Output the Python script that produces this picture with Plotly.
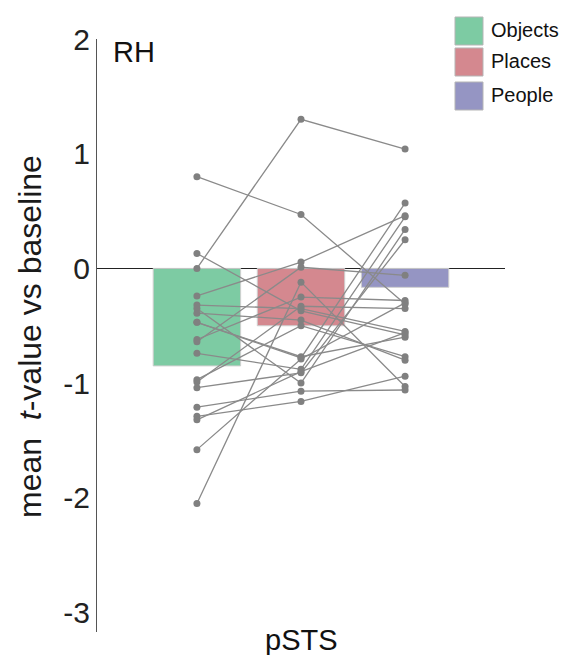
import plotly.graph_objects as go

# ---- data ----
conditions = ["Objects", "Places", "People"]
bar_means = [-0.85, -0.50, -0.165]
bar_colors = ["#7dcba3", "#d4888f", "#9595c3"]

# per-subject values (same index = same subject)
objects = [0.80, 0.00, 0.13, -0.24, -0.32, -0.35, -0.39, -0.47, -0.47, -0.62,
           -0.64, -0.74, -0.97, -0.99, -1.04, -1.21, -1.29, -1.32, -1.58, -2.05]
places = [0.47, 1.30, -0.37, 0.055, -0.35, -1.00, -0.45, -0.77, -0.78, -0.25,
          0.01, -0.88, -0.50, -0.33, -0.91, -1.07, -1.16, -0.90, -0.79, -0.12]
people = [-0.31, 1.04, -0.58, 0.46, -0.55, 0.34, -0.80, -0.60, 0.57, -0.28,
          -0.06, 0.45, -0.77, -0.35, 0.25, -1.06, -0.94, -0.56, -0.30, -1.03]

y_ticks = [-3, -2, -1, 0, 1, 2]
region_label = "pSTS"
hemi_label = "RH"

# ---- layout geometry (pixels) ----
W, H = 571, 655
L, R, T, B = 97, 66, 39, 23
PW, PH = W - L - R, H - T - B


def px(x):
    return (x - L) / PW


def py(y):
    return (H - B - y) / PH


FONT = "Liberation Sans, Arial, Helvetica, sans-serif"
xpos = list(range(len(conditions)))

fig = go.Figure()
fig.add_trace(go.Bar(
    x=xpos, y=bar_means, width=0.84,
    marker=dict(color=bar_colors, line=dict(color="#cfcfcf", width=1)),
    showlegend=False, hoverinfo="skip"))

lx, ly = [], []
for o, p, q in zip(objects, places, people):
    lx += xpos + [None]
    ly += [o, p, q, None]
fig.add_trace(go.Scatter(
    x=lx, y=ly, mode="lines+markers",
    line=dict(color="#8a8a8a", width=1.3),
    marker=dict(color="#808080", size=7),
    showlegend=False, hoverinfo="skip"))

fig.update_xaxes(range=[-0.96, 2.96], visible=False, fixedrange=True)
fig.update_yaxes(
    range=[-3.17, 2.0], tickvals=y_ticks, ticktext=[str(v) for v in y_ticks],
    showgrid=False, showline=True, linecolor="#555", linewidth=1,
    zeroline=True, zerolinecolor="#222", zerolinewidth=1,
    ticks="", ticklabelstandoff=0,
    tickfont=dict(family=FONT, size=30, color="#222"))

annotations = [
    dict(text="mean  <i>t</i>-value vs baseline", xref="paper", yref="paper",
         x=px(30), y=py(337), textangle=-90, showarrow=False,
         xanchor="center", yanchor="middle",
         font=dict(family=FONT, size=32, color="#1a1a1a")),
    dict(text=hemi_label, xref="paper", yref="paper", x=px(111), y=py(52),
         showarrow=False, xanchor="left", yanchor="middle",
         font=dict(family=FONT, size=29, color="#111")),
    dict(text=region_label, xref="x", yref="paper", x=1, y=py(640),
         showarrow=False, xanchor="center", yanchor="middle",
         font=dict(family=FONT, size=29, color="#111")),
]
shapes = []
leg_tops = [17, 48, 82]
for name, col, top in zip(conditions, bar_colors, leg_tops):
    shapes.append(dict(type="rect", xref="paper", yref="paper",
                       x0=px(455), x1=px(483), y0=py(top + 28), y1=py(top),
                       fillcolor=col, line=dict(color="#b5b5b5", width=1)))
    annotations.append(dict(text=name, xref="paper", yref="paper",
                            x=px(489), y=py(top + 13), showarrow=False,
                            xanchor="left", yanchor="middle",
                            font=dict(family=FONT, size=20, color="#111")))

fig.update_layout(
    width=W, height=H, margin=dict(l=L, r=R, t=T, b=B),
    paper_bgcolor="white", plot_bgcolor="white",
    annotations=annotations, shapes=shapes, showlegend=False)

fig.write_html("out.html")
